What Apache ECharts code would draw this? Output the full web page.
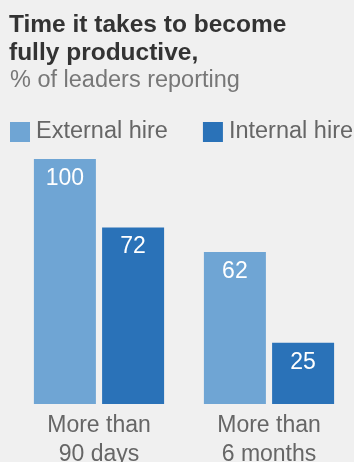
<!DOCTYPE html>
<html><head><meta charset="utf-8">
<script src="https://cdn.jsdelivr.net/npm/echarts@6/dist/echarts.min.js"></script>
<style>html,body{margin:0;padding:0;background:#f0f0f0}#c{width:354px;height:462px}</style>
</head><body><div id="c"></div>
<script>
const categories = ['More than\n90 days', 'More than\n6 months'];
const seriesNames = ['External hire', 'Internal hire'];
const externalHire = [100, 62];
const internalHire = [72, 25];

const font = "'Liberation Sans', Arial, Helvetica, sans-serif";
const chart = echarts.init(document.getElementById('c'));
chart.setOption({
  backgroundColor: '#f0f0f0',
  animation: false,
  title: [
    { text: 'Time it takes to become\nfully productive,', left: 9, top: 11, padding: 0,
      textStyle: { fontFamily: font, fontSize: 24.5, fontWeight: 'bold', color: '#333', lineHeight: 28 } },
    { text: '% of leaders reporting', left: 10, top: 68, padding: 0,
      textStyle: { fontFamily: font, fontSize: 23.5, fontWeight: 'normal', color: '#777', lineHeight: 26 } }
  ],
  legend: {
    left: 10, top: 120, padding: 0, itemWidth: 20, itemHeight: 20, itemGap: 35, icon: 'rect',
    textStyle: { fontFamily: font, fontSize: 23.5, color: '#666', padding: [0,0,0,1] },
    data: seriesNames
  },
  grid: { left: 14, right: 0, top: 159, bottom: 58, containLabel: false, outerBoundsMode: 'none' },
  xAxis: {
    type: 'category', data: categories,
    axisLine: { show: false }, axisTick: { show: false },
    axisLabel: { fontFamily: font, fontSize: 23, color: '#666', lineHeight: 29, margin: 7 }
  },
  yAxis: { type: 'value', min: 0, max: 100, show: false, splitLine: { show: false } },
  series: [
    { name: seriesNames[0], type: 'bar', data: externalHire, barWidth: 62, barGap: '10%',
      itemStyle: { color: '#6fa5d4' },
      label: { show: true, position: 'insideTop', distance: 8, fontFamily: font, fontSize: 23, color: '#fff' } },
    { name: seriesNames[1], type: 'bar', data: internalHire, barWidth: 62,
      itemStyle: { color: '#2a72b8' },
      label: { show: true, position: 'insideTop', distance: 8, fontFamily: font, fontSize: 23, color: '#fff' } }
  ]
});
</script></body></html>
